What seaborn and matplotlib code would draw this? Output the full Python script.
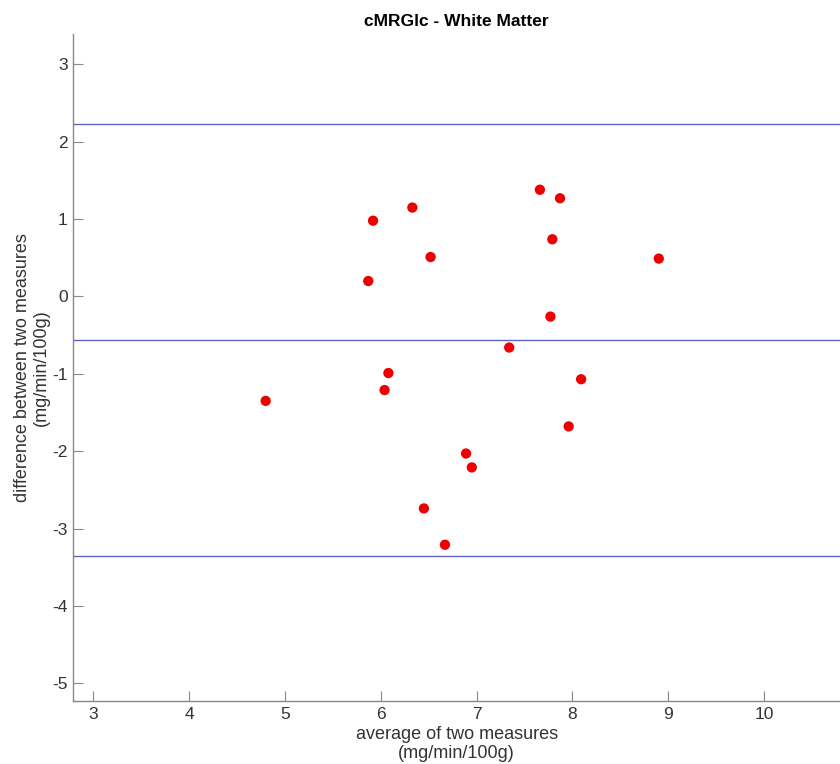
import numpy as np
import pandas as pd
import matplotlib
matplotlib.use("Agg")
import matplotlib.pyplot as plt
import seaborn as sns

# Bland-Altman data
avg_vals = [4.80, 5.87, 5.92, 6.04, 6.08, 6.33, 6.45, 6.52, 6.67, 6.89,
            6.95, 7.34, 7.66, 7.77, 7.79, 7.87, 7.96, 8.09, 8.90]
diff_vals = [-1.35, 0.20, 0.98, -1.21, -0.99, 1.15, -2.74, 0.51, -3.21, -2.03,
             -2.21, -0.66, 1.38, -0.26, 0.74, 1.27, -1.68, -1.07, 0.49]
ref_lines = [2.225, -0.565, -3.355]   # upper LoA, mean, lower LoA
x_ticks = [3, 4, 5, 6, 7, 8, 9, 10]
y_ticks = [-5, -4, -3, -2, -1, 0, 1, 2, 3]

df = pd.DataFrame({"avg": avg_vals, "diff": diff_vals})

sns.set_style("ticks")
plt.rcParams['font.family'] = ['Liberation Sans', 'DejaVu Sans']
plt.rcParams['axes.unicode_minus'] = False

fig = plt.figure(figsize=(8.4, 7.64), dpi=100)
ax = fig.add_axes([0.0874, 0.0825, 0.9126, 0.8726])

for y in ref_lines:
    ax.axhline(y, color='#5d62c4', lw=1.0, zorder=1)

sns.scatterplot(data=df, x="avg", y="diff", color='#ee0000', s=55,
                edgecolor='none', ax=ax, zorder=3)

ax.set_xlim(2.795, 10.79)
ax.set_ylim(-5.23, 3.39)
ax.set_xticks(x_ticks)
ax.set_yticks(y_ticks)

for s in ['top', 'right']:
    ax.spines[s].set_visible(False)
for s in ['left', 'bottom']:
    ax.spines[s].set_color('#888888')
    ax.spines[s].set_linewidth(1.0)
ax.tick_params(axis='both', direction='in', length=7, width=0.8,
               color='#888888', labelsize=12.5, labelcolor='#333333', pad=4)

ax.set_xlabel("average of two measures\n(mg/min/100g)", fontsize=13,
              color='#333333', labelpad=3, linespacing=1.15)
ax.set_ylabel("difference between two measures\n(mg/min/100g)", fontsize=13,
              color='#333333', labelpad=2, linespacing=1.15)
ax.set_title("cMRGlc - White Matter", fontsize=12.5, fontweight='bold',
             color='black', pad=6)

plt.savefig("out.png", dpi=100, facecolor='white')
plt.close()
